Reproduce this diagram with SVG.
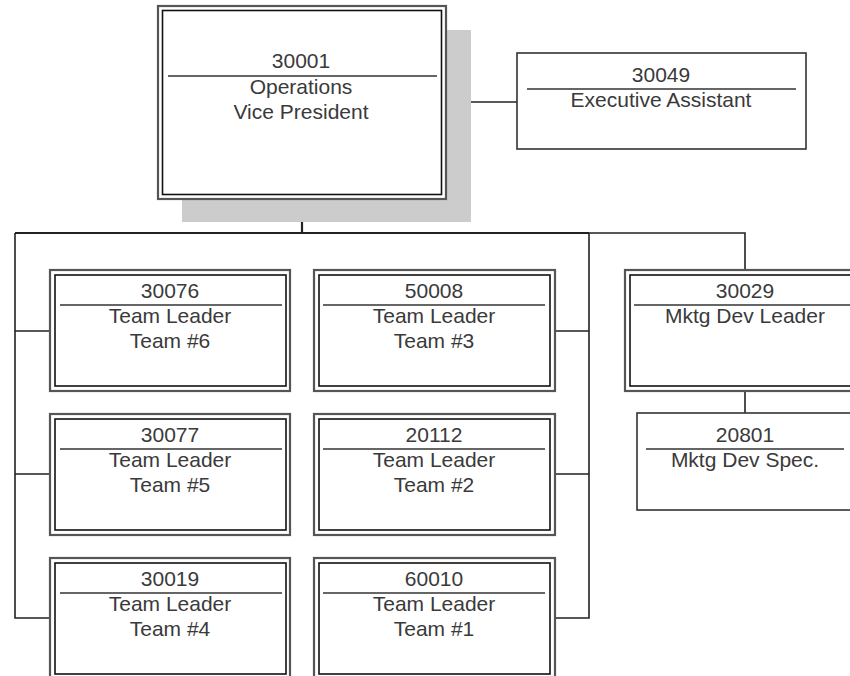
<svg xmlns="http://www.w3.org/2000/svg" width="850" height="676" viewBox="0 0 850 676">
<style>
.outer{fill:#fff;stroke:#555;stroke-width:2.2}
.inner{fill:none;stroke:#111;stroke-width:1.6}
.single{fill:#fff;stroke:#333;stroke-width:1.6}
.div{stroke:#333;stroke-width:1.6}
.conn{fill:none;stroke:#222;stroke-width:1.6}
.t{font-family:"Liberation Sans",Arial,sans-serif;font-size:21px;fill:#3a3a3a;text-anchor:middle}
</style>
<rect width="850" height="676" fill="#fff"/>
<g id="connectors">
<path class="conn" d="M446 102H517"/>
<path class="conn" style="stroke-width:2.2" d="M302 199V233"/>
<path class="conn" style="stroke-width:2" d="M15 233H589"/>
<path class="conn" d="M589 233H745V270"/>
<path class="conn" d="M15 233V618H50M15 331H50M15 474H50"/>
<path class="conn" d="M589 233V618H555M589 331H555M589 474H555"/>
<path class="conn" d="M745 391V413"/>
</g>
<g id="n30001">
<rect x="182" y="30" width="289" height="192" fill="#ccc"/>
<rect class="outer" x="158" y="6" width="288" height="193"/>
<rect class="inner" x="162.5" y="10.5" width="279" height="184"/>
<line class="div" x1="168" y1="76" x2="437" y2="76"/>
<text class="t" x="301" y="68">30001</text>
<text class="t" x="301" y="94">Operations</text>
<text class="t" x="301" y="119">Vice President</text>
</g>
<g id="n30049">
<rect class="single" x="517" y="53" width="289" height="96"/>
<line class="div" x1="527" y1="89" x2="796" y2="89"/>
<text class="t" x="661" y="82">30049</text>
<text class="t" x="661" y="107">Executive Assistant</text>
</g>
<g id="n30076">
<rect class="outer" x="50" y="270" width="240" height="121"/>
<rect class="inner" x="55" y="275" width="231" height="111"/>
<line class="div" x1="60" y1="305" x2="282" y2="305"/>
<text class="t" x="170" y="298">30076</text>
<text class="t" x="170" y="323">Team Leader</text>
<text class="t" x="170" y="348">Team #6</text>
</g>
<g id="n30077">
<rect class="outer" x="50" y="414" width="240" height="121"/>
<rect class="inner" x="55" y="419" width="231" height="111"/>
<line class="div" x1="60" y1="449" x2="282" y2="449"/>
<text class="t" x="170" y="442">30077</text>
<text class="t" x="170" y="467">Team Leader</text>
<text class="t" x="170" y="492">Team #5</text>
</g>
<g id="n30019">
<rect class="outer" x="50" y="558" width="240" height="121"/>
<rect class="inner" x="55" y="563" width="231" height="111"/>
<line class="div" x1="60" y1="593" x2="282" y2="593"/>
<text class="t" x="170" y="586">30019</text>
<text class="t" x="170" y="611">Team Leader</text>
<text class="t" x="170" y="636">Team #4</text>
</g>
<g id="n50008">
<rect class="outer" x="314" y="270" width="241" height="121"/>
<rect class="inner" x="319" y="275" width="231" height="111"/>
<line class="div" x1="323" y1="305" x2="545" y2="305"/>
<text class="t" x="434" y="298">50008</text>
<text class="t" x="434" y="323">Team Leader</text>
<text class="t" x="434" y="348">Team #3</text>
</g>
<g id="n20112">
<rect class="outer" x="314" y="414" width="241" height="121"/>
<rect class="inner" x="319" y="419" width="231" height="111"/>
<line class="div" x1="323" y1="449" x2="545" y2="449"/>
<text class="t" x="434" y="442">20112</text>
<text class="t" x="434" y="467">Team Leader</text>
<text class="t" x="434" y="492">Team #2</text>
</g>
<g id="n60010">
<rect class="outer" x="314" y="558" width="241" height="121"/>
<rect class="inner" x="319" y="563" width="231" height="111"/>
<line class="div" x1="323" y1="593" x2="545" y2="593"/>
<text class="t" x="434" y="586">60010</text>
<text class="t" x="434" y="611">Team Leader</text>
<text class="t" x="434" y="636">Team #1</text>
</g>
<g id="n30029">
<rect class="outer" x="625" y="270" width="240" height="121"/>
<rect class="inner" x="630" y="275" width="231" height="111"/>
<line class="div" x1="634" y1="305" x2="856" y2="305"/>
<text class="t" x="745" y="298">30029</text>
<text class="t" x="745" y="323">Mktg Dev Leader</text>
</g>
<g id="n20801">
<rect class="single" x="637" y="413" width="216" height="97"/>
<line class="div" x1="646" y1="449" x2="844" y2="449"/>
<text class="t" x="745" y="442">20801</text>
<text class="t" x="745" y="467">Mktg Dev Spec.</text>
</g>
</svg>
